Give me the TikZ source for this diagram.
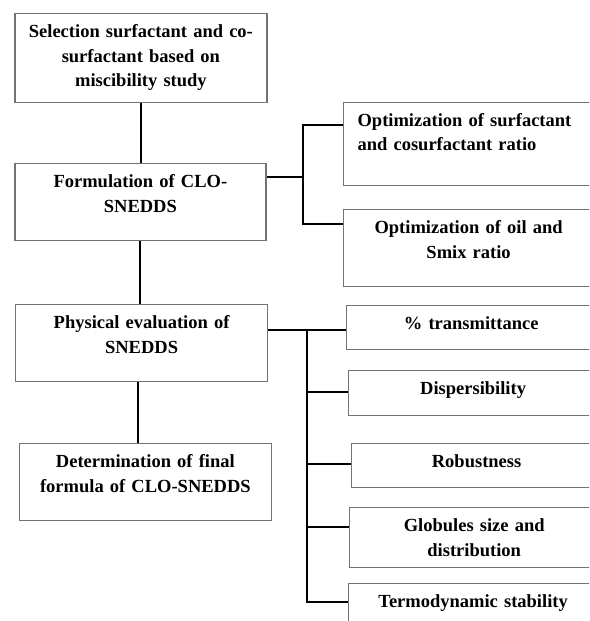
\documentclass[tikz,border=0pt]{standalone}
\usepackage{fontspec}
\setmainfont{Liberation Serif}
\definecolor{boxgray}{gray}{0.45}
\tikzset
    { stage/.style =
        { draw = boxgray
        , line width = 1.2pt
        , anchor = north west
        , align = center
        , inner xsep = 4pt
        , inner ysep = 0pt
        , text height = 24pt
        , text width = 244pt
        , font = \bfseries\fontsize{18.5}{24.5}\selectfont
        }
    , check/.style = {stage, text width = 242pt}
    , link/.style = {line width = 2pt, black}
    }

\begin{document}
\begin{tikzpicture}[x=1pt, y=-1pt]

            \useasboundingbox (0, 0) rectangle (589, 621);
            \clip (0, 0) rectangle (589, 621);

            \node[stage, text depth=65pt] (select) at (14.3, 13)
                {Selection surfactant and co-\\surfactant based on\\miscibility study};
            \node[stage, text depth=53pt, text width=243pt] (form) at (14.3, 163)
                {Formulation of CLO-\\SNEDDS};
            \node[stage, text depth=53pt] (phys) at (15, 304)
                {Physical evaluation of\\SNEDDS};
            \node[stage, text depth=53pt] (final) at (18.8, 443)
                {Determination of final\\formula of CLO-SNEDDS};

            \node[check, text depth=59.5pt, align=left, inner xsep=14pt, text width=222pt] (ratio) at (343, 101.5)
                {Optimization of surfactant\\and cosurfactant ratio};
            \node[check, text depth=53pt] (smix) at (343, 209)
                {Optimization of oil and\\Smix ratio};

            \node[check, text depth=20pt] (trans) at (345.6, 305) {\% transmittance};
            \node[check, text depth=21.5pt] (disp) at (347.5, 369.5) {Dispersibility};
            \node[check, text depth=20pt] (robust) at (351, 443) {Robustness};
            \node[check, text depth=36pt] (globule) at (348.6, 507) {Globules size and\\distribution};
            \node[check, text depth=36pt] (thermo) at (347.5, 583) {Termodynamic stability};

            \draw[link] (select.south) -- (select.south |- form.north);
            \draw[link] (form.south) -- (form.south |- phys.north);
            \draw[link] ([xshift=-3.5pt]phys.south) -- ([xshift=-3.5pt]phys.south |- final.north);

            \coordinate (fjoin) at (303.4, 176.7);
            \draw[link] (form.east |- fjoin) -- (fjoin);
            \draw[link] ([yshift=-23.5pt]ratio.north west) -| (fjoin);
            \draw[link] ([yshift=-15.3pt]smix.north west) -| (fjoin);

            \coordinate (pjoin) at (307.3, 329.5);
            \draw[link] (phys.east |- pjoin) -- (pjoin);
            \foreach \b/\d in {trans/24.5, disp/22.8, robust/21.3, globule/20, thermo/19}
                \draw[link] ([yshift=-\d pt]\b.north west) -| (pjoin);

\end{tikzpicture}
\end{document}
